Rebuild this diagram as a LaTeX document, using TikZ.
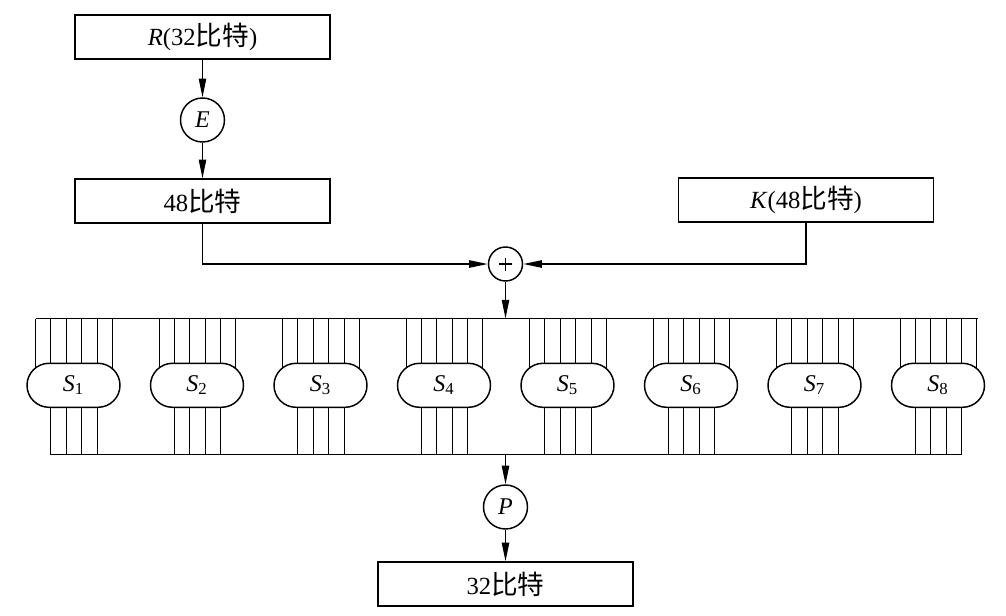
\documentclass[tikz,border=0pt]{standalone}
\usepackage{fontspec}
\setmainfont{Liberation Serif}
\newfontfamily\cjk[Scale=1.08]{Noto Sans CJK SC}
\usetikzlibrary{arrows.meta,shapes.misc,backgrounds,calc}
\begin{document}
\begin{tikzpicture}[x=0.75pt,y=-0.75pt,
  every path/.append style={line width=1.1pt},
  box/.style={draw, line width=1.1pt, minimum width=191.25pt, minimum height=33pt, inner sep=0pt, font=\fontsize{18.5}{20}\selectfont},
  op/.style={draw, line width=1.1pt, circle, minimum size=33pt, inner sep=0pt, font=\fontsize{18}{20}\selectfont\itshape},
  xorc/.style={draw, line width=1.1pt, circle, minimum size=25.5pt, inner sep=0pt},
  sbox/.style={draw, line width=1.1pt, fill=white, rounded rectangle, minimum width=69.75pt, minimum height=33pt, inner sep=0pt, font=\fontsize{18}{20}\selectfont},
  busline/.style={line width=1.1pt},
  arr/.style={-{Triangle[length=14pt,width=5.5pt]}}]
\useasboundingbox (0,0) rectangle (1006,615);
% top part
\node[box] (R) at (202.5,37) {\textit{R}(32{\cjk 比特})};
\node[op] (E) at (202.5,120) {E};
\node[box] (B48) at (202.5,201) {48{\cjk 比特}};
\node[box] (K) at (806,200) {\textit{K}(48{\cjk 比特})};
\node[xorc] (X) at (505.5,264) {};
\draw[line width=0.8pt] ($(X.center)+(-6.5,0)$) -- ($(X.center)+(6.5,0)$);
\draw[line width=0.8pt] ($(X.center)+(0,-6.5)$) -- ($(X.center)+(0,6.5)$);
\draw[arr] (R) -- (E);
\draw[arr] (E) -- (B48);
\draw[arr] (B48.south) |- (X.west);
\draw[arr] (K.south) |- (X.east);
% bars
\coordinate (TL) at (35.5,318.5);
\coordinate (TR) at (977.5,318.5);
\coordinate (Tin) at (505.5,318.5);
\coordinate (BL) at (50.5,454.5);
\coordinate (BR) at (961.5,454.5);
\coordinate (Bout) at (505.5,454.5);
\draw (TL) -- (TR);
\draw (BL) -- (BR);
\draw[arr] (X.south) -- (Tin);
% S-boxes
\foreach \i in {1,...,8} {
  \pgfmathsetmacro\xa{35+123.5*(\i-1)}
  \node[sbox] (S\i) at (\xa+38.5,385.3) {\textit{S}\textsubscript{\i}};
}
\begin{pgfonlayer}{background}
\foreach \i in {1,...,8} {
  \pgfmathsetmacro\xa{35+123.5*(\i-1)}
  \foreach \j in {0,...,5} {
    \pgfmathsetmacro\xx{round(\xa+15.4*\j)+0.5}
    \draw[busline] (\xx,318.5) -- (\xx,385.3);
  }
  \foreach \j in {1,...,4} {
    \pgfmathsetmacro\xx{round(\xa+15.4*\j)+0.5}
    \draw[busline] (\xx,385.3) -- (\xx,454.5);
  }
}
\end{pgfonlayer}
% bottom part
\node[op] (P) at (505.5,507) {P};
\node[box] (O) at (505.5,584) {32{\cjk 比特}};
\draw[arr] (Bout) -- (P);
\draw[arr] (P) -- (O);
\end{tikzpicture}
\end{document}
